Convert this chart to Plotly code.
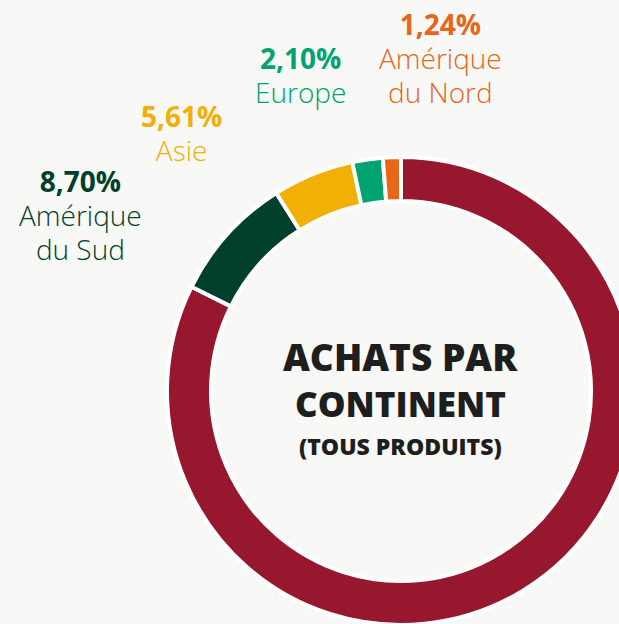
import plotly.graph_objects as go

# ---- data ----
continents = ["Afrique", "Amérique du Sud", "Asie", "Europe", "Amérique du Nord"]
shares = [82.35, 8.70, 5.61, 2.10, 1.24]
colors = ["#97172F", "#003F2C", "#F2AF05", "#00A370", "#E8651A"]
label_lines = {
    "Amérique du Sud": ["Amérique", "du Sud"],
    "Asie": ["Asie"],
    "Europe": ["Europe"],
    "Amérique du Nord": ["Amérique", "du Nord"],
}
title_lines = ["ACHATS PAR", "CONTINENT", "(TOUS PRODUITS)"]

# The figure is a little larger than the 619x624 window so the ring runs
# off the right and bottom edges, as in the reference.
W, H = 650, 640
BG = "#f8f8f7"

CX, CY, R = 401, 391, 234   # ring centre and radius, pixels from top-left

fig = go.Figure()
fig.add_trace(go.Pie(
    labels=continents,
    values=shares,
    sort=False,
    direction="clockwise",
    rotation=0,
    hole=0.812,
    marker=dict(colors=colors, line=dict(color="#ffffff", width=4)),
    textinfo="none",
    hoverinfo="label+percent",
    showlegend=False,
    domain=dict(x=[(CX - R) / W, (CX + R) / W],
                y=[1 - (CY + R) / H, 1 - (CY - R) / H]),
))


def px(x):
    return x / W


def py(y):
    return 1 - y / H


FONT = "Open Sans"
# block centre positions (pixels)
label_pos = {
    "Amérique du Nord": (440, 58),
    "Europe": (300, 75),
    "Asie": (181, 133),
    "Amérique du Sud": (80, 215),
}
for name, (cx, cy) in label_pos.items():
    i = continents.index(name)
    col = colors[i]
    pct = f"{shares[i]:.2f}".replace(".", ",") + "%"
    lines = [f"<span style='font-size:28px;font-weight:700'>{pct}</span>"]
    lines += [f"<span style='font-size:28px'>{ln}</span>" for ln in label_lines[name]]
    fig.add_annotation(x=px(cx), y=py(cy), xref="paper", yref="paper",
                       text="<br>".join(lines), showarrow=False,
                       xanchor="center", yanchor="middle", align="center",
                       font=dict(family=FONT, size=26, color=col, weight=300))

title_y = [356, 403, 446]
title_size = [37, 35, 23]
for t, ty, ts in zip(title_lines, title_y, title_size):
    fig.add_annotation(x=px(400), y=py(ty), xref="paper", yref="paper",
                       text=t, showarrow=False, xanchor="center", yanchor="middle",
                       font=dict(family=FONT, size=ts, color="#1e1e1e", weight=800))

fig.update_layout(
    width=W, height=H,
    margin=dict(l=0, r=0, t=0, b=0),
    paper_bgcolor=BG, plot_bgcolor=BG,
    showlegend=False,
)

fig.write_html(
    "out.html",
    config={"displayModeBar": False},
    post_script=(
        "document.documentElement.style.margin='0';"
        "document.documentElement.style.overflow='hidden';"
        "document.body.style.margin='0';"
        "document.body.style.overflow='hidden';"
        "document.body.style.background='" + BG + "';"
    ),
)
